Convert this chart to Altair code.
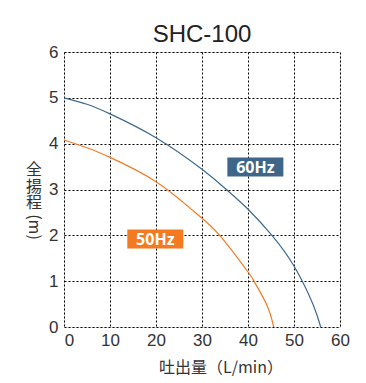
import altair as alt
import pandas as pd

# Pump performance curves: discharge flow (L/min) vs total head (m)
flow_60 = [0, 5, 10, 20, 30, 35.3, 40, 45.2, 50, 54.1, 55.8]
head_60 = [5.0, 4.86, 4.65, 4.13, 3.44, 3.0, 2.57, 2.0, 1.33, 0.5, 0.0]

flow_50 = [0, 5, 10, 20, 28.4, 33.85, 40, 41.3, 44, 45.6]
head_50 = [4.08, 3.91, 3.7, 3.17, 2.51, 2.0, 1.2, 1.0, 0.5, 0.0]

label_text = ["60Hz", "50Hz"]
label_flow = [41.6, 19.85]
label_head = [3.49, 1.92]
label_color = ["#3e6688", "#f47a21"]

x_ticks = [0, 10, 20, 30, 40, 50, 60]
y_ticks = [0, 1, 2, 3, 4, 5, 6]

curves = pd.concat([
    pd.DataFrame({"flow": flow_60, "head": head_60, "freq": "60Hz"}),
    pd.DataFrame({"flow": flow_50, "head": head_50, "freq": "50Hz"}),
])
labels = pd.DataFrame({"text": label_text, "flow": label_flow,
                       "head": label_head, "color": label_color})

FONT = "Liberation Sans"
JP = "Noto Sans CJK JP"

x_scale = alt.Scale(domain=[0, 60], nice=False, zero=False)
y_scale = alt.Scale(domain=[0, 6], nice=False, zero=False)

axis_style = dict(title=None, grid=True, domain=False, ticks=False, labelFlush=False,
                  labelFont=FONT, labelFontSize=17, labelColor="#333",
                  gridColor="#000", gridDash=[2, 2], gridWidth=1)
# the "0" on the flow axis sits a little to the right of the corner
x_axis = alt.Axis(values=x_ticks, labelPadding=5,
                  labelOffset={"condition": {"test": "datum.value === 0", "value": 5},
                               "value": 0},
                  **axis_style)
y_axis = alt.Axis(values=y_ticks, labelPadding=6, **axis_style)

lines = alt.Chart(curves).mark_line(strokeWidth=1.2, interpolate="natural").encode(
    x=alt.X("flow:Q", scale=x_scale, axis=x_axis),
    y=alt.Y("head:Q", scale=y_scale, axis=y_axis),
    color=alt.Color("freq:N", scale=alt.Scale(domain=["60Hz", "50Hz"],
                                              range=["#3e6a8e", "#f47a21"]),
                    legend=None),
    detail="freq:N",
)

boxes = alt.Chart(labels).mark_point(
    shape="M-1,-0.34L1,-0.34L1,0.34L-1,0.34Z", filled=True, opacity=1, size=3136,
).encode(
    x=alt.X("flow:Q", scale=x_scale),
    y=alt.Y("head:Q", scale=y_scale),
    fill=alt.Fill("color:N", scale=None),
)

box_text = alt.Chart(labels).mark_text(
    font="Noto Sans", fontSize=16, fontWeight="bold", color="white", baseline="middle", dy=1,
).encode(
    x=alt.X("flow:Q", scale=x_scale),
    y=alt.Y("head:Q", scale=y_scale),
    text="text:N",
)

# Vertical y-axis title: upright kanji stacked, unit rotated
y_title = alt.Chart(pd.DataFrame({"t": ["全\n揚\n程"]})).mark_text(
    font=JP, fontSize=16, color="#333", baseline="top", lineBreak="\n", lineHeight=16.5,
).encode(text="t:N", x=alt.value(-30), y=alt.value(110))
y_unit = alt.Chart(pd.DataFrame({"t": ["(m)"]})).mark_text(
    font=JP, fontSize=16, color="#333", angle=90, baseline="middle",
).encode(text="t:N", x=alt.value(-30), y=alt.value(175))

x_title = alt.Chart(pd.DataFrame({"t": ["吐出量（L/min）"]})).mark_text(
    font=JP, fontSize=16, color="#333", baseline="middle",
).encode(text="t:N", x=alt.value(157), y=alt.value(316))

chart = alt.layer(lines, boxes, box_text, y_title, y_unit, x_title).properties(
    width=276,
    height=275,
    title=alt.TitleParams("SHC-100", font=FONT, fontSize=24, fontWeight="normal",
                          color="#222", anchor="middle", offset=-4),
    autosize=alt.AutoSizeParams(type="none"),
    padding={"left": 64, "top": 52, "right": 26, "bottom": 56},
).configure_view(stroke="#111", strokeWidth=1.5).configure(background="white")

chart.save("out.html", embed_options={"renderer": "svg", "actions": False})
